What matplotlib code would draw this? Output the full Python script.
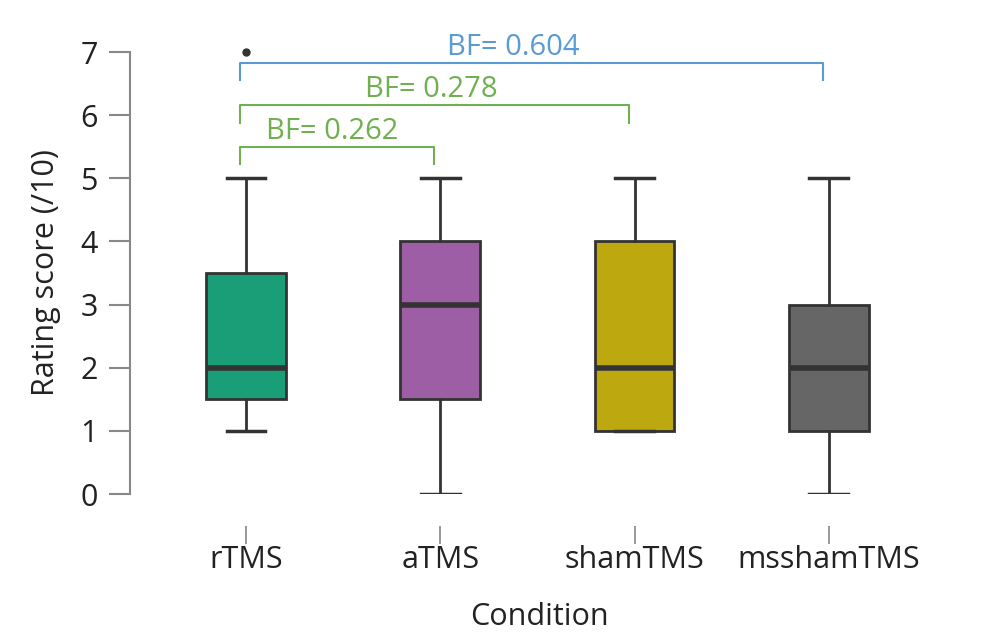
import matplotlib
matplotlib.use("Agg")
import matplotlib.pyplot as plt

plt.rcParams['font.family'] = ['Open Sans', 'DejaVu Sans']

categories = ["rTMS", "aTMS", "shamTMS", "msshamTMS"]
whislo = [1, 0, 1, 0]
q1 = [1.5, 1.5, 1, 1]
med = [2, 3, 2, 2]
q3 = [3.5, 4, 4, 3]
whishi = [5, 5, 5, 5]
fliers = [[7], [], [], []]
colors = ["#1a9e77", "#9e5ea5", "#bda90f", "#666666"]

# Bayes factor comparisons
bf_pairs = [(0, 1), (0, 2), (0, 3)]
bf_labels = ["BF= 0.262", "BF= 0.278", "BF= 0.604"]
bf_colors = ["#70b050", "#70b050", "#5b9bd5"]
bf_lines = [5.50, 6.16, 6.83]
bf_text_x = [0.443, 0.952, 1.374]

fig = plt.figure(figsize=(9.97, 6.37), dpi=100)
W, H = 997, 637
x0px, x_unit = 246, 194.3
xlo, xhi = -0.597, 3.62
left = (x0px + xlo * x_unit) / W
width = (xhi - xlo) * x_unit / W
bottom = (H - 494) / H
height = (494 - 52) / H
ax = fig.add_axes([left, bottom, width, height])

stats = []
for i, c in enumerate(categories):
    stats.append(dict(label=c, whislo=whislo[i], q1=q1[i], med=med[i],
                      q3=q3[i], whishi=whishi[i], fliers=fliers[i]))

ec = "#333333"
bp = ax.bxp(stats, positions=range(len(categories)), widths=0.41,
            patch_artist=True, showfliers=True,
            boxprops=dict(edgecolor=ec, linewidth=2),
            medianprops=dict(color=ec, linewidth=4, solid_capstyle='butt'),
            whiskerprops=dict(color=ec, linewidth=2),
            capprops=dict(color=ec, linewidth=2.5),
            capwidths=0.2,
            flierprops=dict(marker='o', markerfacecolor=ec, markeredgecolor=ec,
                            markersize=5))
for patch, col in zip(bp['boxes'], colors):
    patch.set_facecolor(col)
for ln in bp['fliers']:
    ln.set_clip_on(False)

tip = 0.28
shift = -0.03
for (a, b), lab, col, yl, tx in zip(bf_pairs, bf_labels, bf_colors, bf_lines, bf_text_x):
    xa, xb = a + shift, b + shift
    ax.plot([xa, xa, xb, xb], [yl - tip, yl, yl, yl - tip], color=col,
            linewidth=1.5, clip_on=False)
    ax.text(tx, yl + 0.12, lab, color=col, fontsize=21, ha='center',
            va='baseline', clip_on=False)

ax.set_xlim(xlo, xhi)
ax.set_ylim(0, 7)
ax.set_yticks(range(0, 8))
ax.set_xticks(range(len(categories)))
ax.set_xticklabels(categories)

for s in ['top', 'right']:
    ax.spines[s].set_visible(False)
ax.spines['left'].set_color('#888888')
ax.spines['left'].set_linewidth(1.5)
ax.spines['bottom'].set_position(('outward', 23))
ax.spines['bottom'].set_visible(False)

ax.tick_params(axis='y', length=15, width=1.5, color='#888888',
               labelsize=22, pad=8, labelcolor='#222222')
ax.tick_params(axis='x', length=13, width=1.2, color='#888888',
               labelsize=22, pad=1, labelcolor='#222222')

ax.set_xlabel("Condition", fontsize=22, labelpad=19, color='#222222')
ax.set_ylabel("Rating score (/10)", fontsize=22, labelpad=14, color='#222222')

fig.savefig("out.png", dpi=100)
